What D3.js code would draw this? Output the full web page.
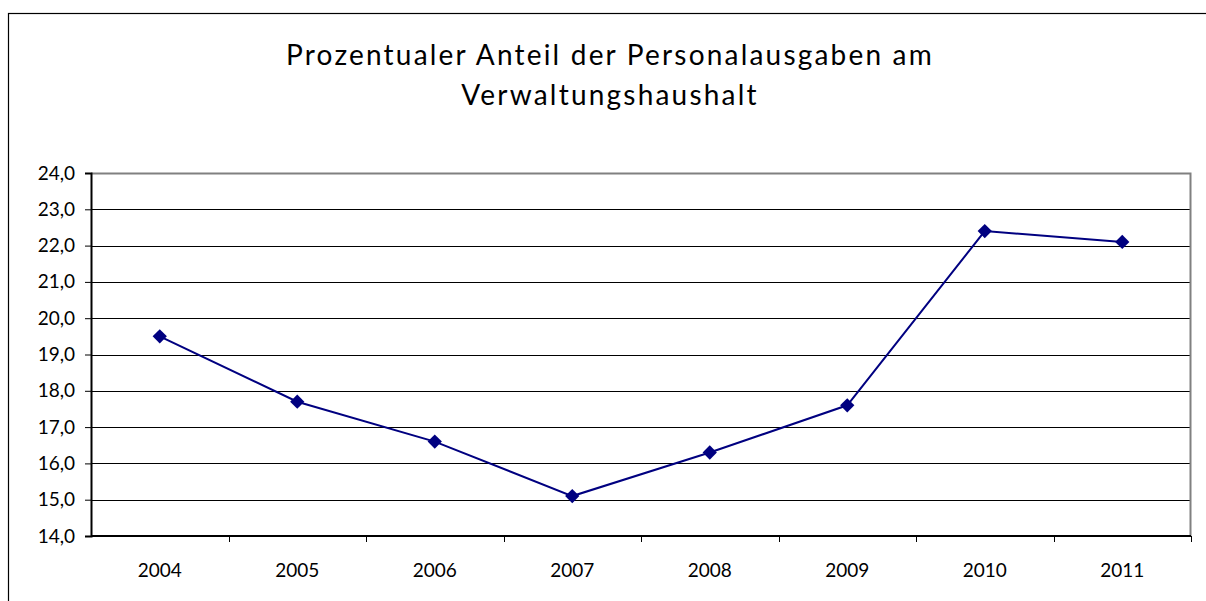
<!DOCTYPE html>
<html>
<head>
<meta charset="utf-8">
<script src="https://cdn.jsdelivr.net/npm/d3@7"></script>
<style>
  html, body { margin: 0; padding: 0; background: #fff; }
  svg { display: block; }
</style>
</head>
<body>
<div id="chart"></div>
<script>
(function() {
    'use strict';

    // Data
    const years = ["2004", "2005", "2006", "2007", "2008", "2009", "2010", "2011"];
    const shares = [19.5, 17.7, 16.6, 15.1, 16.3, 17.6, 22.4, 22.1];
    const yTicks = [14, 15, 16, 17, 18, 19, 20, 21, 22, 23, 24];
    const titleLines = ["Prozentualer Anteil der Personalausgaben am", "Verwaltungshaushalt"];

    const width = 1206;
    const height = 601;

    const marginTop = 173;
    const marginRight = 15;
    const marginBottom = 65;
    const marginLeft = 91;

    const font = "Lato, 'Open Sans', sans-serif";

    const svg = d3.select("#chart")
        .append("svg")
        .attr("width", width)
        .attr("height", height);

    // outer frame
    svg.append("rect")
        .attr("x", 8.5)
        .attr("y", 13.5)
        .attr("width", 1210)
        .attr("height", 700)
        .attr("fill", "none")
        .attr("stroke", "#000")
        .attr("stroke-width", 1.2);

    // TITLE
    svg.append("g")
        .selectAll("text")
        .data(titleLines)
        .join("text")
        .attr("x", 610)
        .attr("y", (d, i) => 65 + i * 40)
        .attr("text-anchor", "middle")
        .attr("font-family", font)
        .attr("font-size", "28px")
        .attr("letter-spacing", "2.2px")
        .attr("fill", "#000")
        .text(d => d);

    // X SCALE
    const x = d3.scaleBand()
        .domain(years)
        .range([marginLeft, width - marginRight])
        .padding(0);

    // Y SCALE
    const y = d3.scaleLinear()
        .domain([14, 24])
        .range([height - marginBottom, marginTop]);

    // GRIDLINES
    svg.append("g")
        .selectAll("line")
        .data(yTicks.slice(1, -1))
        .join("line")
        .attr("x1", marginLeft)
        .attr("x2", width - marginRight)
        .attr("y1", d => Math.round(y(d)) + 0.5)
        .attr("y2", d => Math.round(y(d)) + 0.5)
        .attr("stroke", "#000")
        .attr("stroke-width", 1);

    // plot border (top / right gray)
    svg.append("path")
        .attr("d", `M${marginLeft},${y(24) + 0.5}H${width - marginRight - 0.5}V${y(14)}`)
        .attr("fill", "none")
        .attr("stroke", "#808080")
        .attr("stroke-width", 2);

    // Y AXIS
    svg.append("g")
        .attr("transform", `translate(${marginLeft}, 0)`)
        .call(
            d3.axisLeft(y)
                .tickValues(yTicks)
                .tickSize(6)
                .tickPadding(10)
                .tickFormat(d => d3.format(".1f")(d).replace(".", ","))
        )
        .call(g => g.select(".domain").attr("stroke", "#000").attr("stroke-width", 2))
        .call(g => g.selectAll("line").attr("stroke", "#000"))
        .call(g => g.selectAll("text")
            .attr("fill", "#000")
            .attr("font-family", font)
            .attr("font-size", "19px"));

    // X AXIS
    const xAxis = svg.append("g")
        .attr("transform", `translate(0, ${height - marginBottom})`);

    xAxis.append("line")
        .attr("x1", marginLeft)
        .attr("x2", width - marginRight)
        .attr("stroke", "#000")
        .attr("stroke-width", 2);

    xAxis.append("g")
        .selectAll("line")
        .data(years)
        .join("line")
        .attr("x1", d => Math.round(x(d) + x.bandwidth()) + 0.5)
        .attr("x2", d => Math.round(x(d) + x.bandwidth()) + 0.5)
        .attr("y1", 0)
        .attr("y2", 6)
        .attr("stroke", "#000");

    xAxis.append("g")
        .selectAll("text")
        .data(years)
        .join("text")
        .attr("x", d => x(d) + x.bandwidth() / 2)
        .attr("y", 41)
        .attr("text-anchor", "middle")
        .attr("font-family", font)
        .attr("font-size", "19px")
        .attr("fill", "#000")
        .text(d => d);

    // LINE
    const line = d3.line()
        .x((d, i) => x(years[i]) + x.bandwidth() / 2)
        .y(d => y(d));

    svg.append("path")
        .datum(shares)
        .attr("d", line)
        .attr("fill", "none")
        .attr("stroke", "#000080")
        .attr("stroke-width", 2);

    // MARKERS
    svg.append("g")
        .selectAll("path")
        .data(shares)
        .join("path")
        .attr("transform", (d, i) => `translate(${x(years[i]) + x.bandwidth() / 2}, ${y(d)})`)
        .attr("d", d3.symbol(d3.symbolDiamond2, 130))
        .attr("fill", "#000080");

})();
</script>
</body>
</html>
